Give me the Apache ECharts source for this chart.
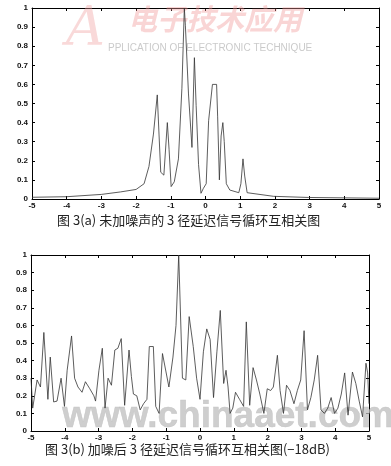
<!DOCTYPE html>
<html><head><meta charset="utf-8">
<script src="https://cdn.jsdelivr.net/npm/echarts@6/dist/echarts.min.js"></script>
<style>html,body{margin:0;padding:0;background:#fff;}#c{width:391px;height:466px;}</style>
</head><body><div id="c"></div>
<script>
// Top chart (a): no noise
const xA = [-5, -4, -3, -2.45, -2, -1.77, -1.63, -1.5, -1.39, -1.34, -1.29, -1.2, -1.1, -1.05, -0.99, -0.9, -0.78, -0.68, -0.61, -0.58, -0.49, -0.39, -0.32, -0.27, -0.2, -0.13, -0.06, 0.02, 0.09, 0.2, 0.32, 0.35, 0.4, 0.45, 0.5, 0.54, 0.6, 0.7, 0.96, 1.02, 1.08, 1.13, 1.2, 1.96, 2.97, 5];
const yA = [0.009, 0.012, 0.024, 0.037, 0.05, 0.08, 0.17, 0.34, 0.545, 0.34, 0.14, 0.125, 0.40, 0.26, 0.065, 0.09, 0.21, 0.58, 1.0, 0.91, 0.55, 0.27, 0.74, 0.49, 0.18, 0.03, 0.056, 0.08, 0.41, 0.6, 0.6, 0.43, 0.10, 0.33, 0.40, 0.30, 0.08, 0.047, 0.033, 0.08, 0.21, 0.12, 0.033, 0.014, 0.008, 0.004];
// Bottom chart (b): with noise (-18dB)
const xB = [-5, -4.95, -4.82, -4.72, -4.62, -4.5, -4.43, -4.33, -4.23, -4.11, -4.01, -3.93, -3.8, -3.71, -3.61, -3.49, -3.39, -3.26, -3.14, -3.09, -2.99, -2.89, -2.81, -2.72, -2.62, -2.52, -2.43, -2.33, -2.23, -2.1, -2.03, -1.97, -1.87, -1.77, -1.67, -1.57, -1.5, -1.38, -1.31, -1.21, -1.11, -0.92, -0.8, -0.71, -0.63, -0.52, -0.42, -0.32, -0.2, -0.1, 0, 0.1, 0.2, 0.3, 0.4, 0.5, 0.6, 0.7, 0.77, 0.83, 0.89, 0.97, 1.05, 1.17, 1.29, 1.37, 1.47, 1.57, 1.67, 1.77, 1.89, 1.99, 2.09, 2.17, 2.29, 2.37, 2.47, 2.56, 2.66, 2.78, 2.88, 2.98, 3.08, 3.18, 3.28, 3.38, 3.48, 3.58, 3.68, 3.78, 3.88, 3.98, 4.08, 4.18, 4.28, 4.38, 4.51, 4.61, 4.71, 4.81, 4.91, 4.96, 5];
const yB = [0.30, 0.13, 0.29, 0.25, 0.56, 0.18, 0.42, 0.165, 0.17, 0.30, 0.14, 0.345, 0.54, 0.30, 0.25, 0.22, 0.28, 0.24, 0.20, 0.17, 0.345, 0.47, 0.13, 0.30, 0.26, 0.46, 0.47, 0.525, 0.146, 0.46, 0.31, 0.21, 0.20, 0.12, 0.155, 0.18, 0.48, 0.48, 0.14, 0.10, 0.44, 0.25, 0.42, 0.60, 1.0, 0.30, 0.29, 0.65, 0.48, 0.30, 0.18, 0.45, 0.58, 0.52, 0.19, 0.45, 0.685, 0.27, 0.345, 0.25, 0.10, 0.13, 0.22, 0.18, 0.14, 0.62, 0.146, 0.36, 0.29, 0.21, 0.10, 0.24, 0.23, 0.25, 0.43, 0.23, 0.10, 0.26, 0.23, 0.155, 0.23, 0.29, 0.57, 0.12, 0.19, 0.29, 0.43, 0.12, 0.10, 0.13, 0.19, 0.10, 0.13, 0.21, 0.33, 0.09, 0.335, 0.27, 0.17, 0.08, 0.385, 0.33, 0.155];
const captionA = '图 3(a) 未加噪声的 3 径延迟信号循环互相关图';
const captionB = '图 3(b) 加噪后 3 径延迟信号循环互相关图(−18dB)';

const pairs = (xs, ys) => xs.map((x, i) => [x, ys[i]]);
const chart = echarts.init(document.getElementById('c'), null, {renderer: 'canvas'});
const lab = {fontSize: 8, color: '#111', fontFamily: 'Liberation Sans, Arial', fontWeight: 'bold'};
function xAx(g, pos, show) {
  return {type: 'value', gridIndex: g, position: pos, min: -5, max: 5, interval: 1,
    axisLine: {show: true, onZero: false, lineStyle: {color: '#000', width: 1}},
    axisTick: {show: true, inside: true, length: 3, lineStyle: {color: '#000'}},
    axisLabel: show ? Object.assign({margin: 3}, lab) : {show: false},
    splitLine: {show: false}};
}
function yAx(g, pos, show) {
  return {type: 'value', gridIndex: g, position: pos, min: 0, max: 1, interval: 0.1,
    axisLine: {show: true, onZero: false, lineStyle: {color: '#000', width: 1}},
    axisTick: {show: true, inside: true, length: 3, lineStyle: {color: '#000'}},
    axisLabel: show ? Object.assign({margin: 4, formatter: v => String(+v.toFixed(1))}, lab) : {show: false},
    splitLine: {show: false}};
}
const capStyle = {fill: '#222', font: '13px "Noto Sans CJK SC"'};
chart.setOption({
  animation: false,
  backgroundColor: '#fff',
  grid: [
    {left: 32, right: 12, top: 8, height: 191},
    {left: 31, right: 22, top: 255, height: 176}
  ],
  xAxis: [xAx(0, 'bottom', true), xAx(0, 'top', false), xAx(1, 'bottom', true), xAx(1, 'top', false)],
  yAxis: [yAx(0, 'left', true), yAx(0, 'right', false), yAx(1, 'left', true), yAx(1, 'right', false)],
  series: [
    {type: 'line', xAxisIndex: 0, yAxisIndex: 0, data: pairs(xA, yA), showSymbol: false,
      lineStyle: {color: '#333', width: 0.8}, z: 3},
    {type: 'line', xAxisIndex: 2, yAxisIndex: 2, data: pairs(xB, yB), showSymbol: false,
      lineStyle: {color: '#333', width: 0.8}, z: 3}
  ],
  graphic: [
    // watermark top
    {type: 'text', left: 66, top: 4, z: 1, style: {text: 'A', fill: 'rgba(240,160,160,0.4)', font: 'italic 54px "DejaVu Serif"'}},
    {type: 'text', left: 128, top: 4, z: 1, style: {text: '电子技术应用', fill: 'rgba(240,150,150,0.4)', font: 'bold italic 29px "Noto Sans CJK SC"'}},
    {type: 'text', left: 108, top: 43, z: 1, style: {text: 'PPLICATION OF ELECTRONIC TECHNIQUE', fill: 'rgba(150,150,150,0.5)', font: '10px "Liberation Sans"'}},
    // watermark bottom
    {type: 'text', left: 62, top: 398, z: 1, style: {text: 'www.chinaaet.com', fill: 'rgba(190,190,190,0.75)', font: 'bold 37px "Liberation Sans"', stroke: 'rgba(160,160,160,0.5)', lineWidth: 0.5}},
    // captions
    {type: 'text', left: 57, top: 214, style: Object.assign({text: captionA}, capStyle)},
    {type: 'text', left: 45, top: 443, style: Object.assign({text: captionB}, capStyle)}
  ]
});
</script></body></html>
